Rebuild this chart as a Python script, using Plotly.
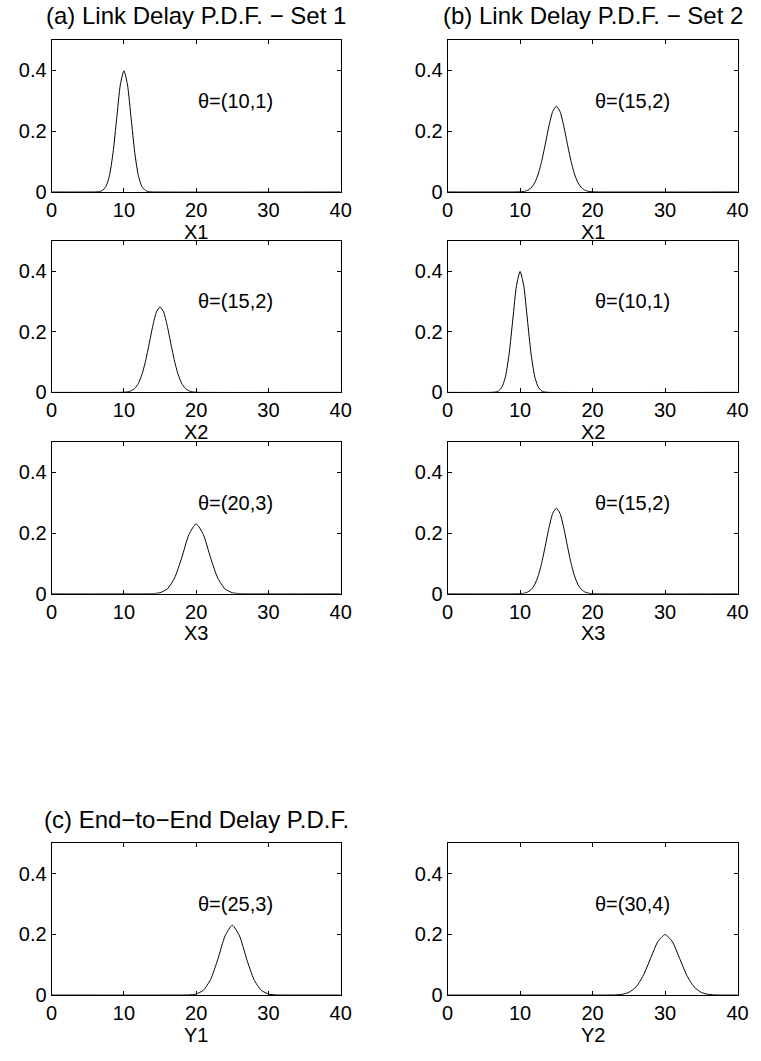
import plotly.graph_objects as go

# ---- data ----
# theta = (10,1)
x_10_1 = [0, 6, 6.5, 7, 7.5, 8, 8.5, 9, 9.5, 10, 10.5, 11, 11.5, 12, 12.5, 13, 13.5, 14, 40]
y_10_1 = [0, 0.0001, 0.0009, 0.0044, 0.0175, 0.054, 0.1295, 0.242, 0.3521, 0.3989, 0.3521, 0.242, 0.1295,
          0.054, 0.0175, 0.0044, 0.0009, 0.0001, 0]
# theta = (15,2)
x_15_2 = [0, 9, 10, 10.5, 11, 11.5, 12, 12.5, 13, 13.5, 14, 14.5, 15, 15.5, 16, 16.5, 17, 17.5, 18, 18.5,
          19, 19.5, 20, 21, 40]
y_15_2 = [0, 0.0, 0.0005, 0.0018, 0.0052, 0.0132, 0.0297, 0.0591, 0.1038, 0.1607, 0.2197, 0.2650, 0.2821,
          0.2650, 0.2197, 0.1607, 0.1038, 0.0591, 0.0297, 0.0132, 0.0052, 0.0018, 0.0005, 0.0, 0]
# theta = (20,3)
x_20_3 = [0, 13, 14, 15, 16, 17, 18, 19, 20, 21, 22, 23, 24, 25, 26, 27, 40]
y_20_3 = [0, 0.0001, 0.0006, 0.0036, 0.0160, 0.0514, 0.1182, 0.1950, 0.2303, 0.1950, 0.1182, 0.0514,
          0.0160, 0.0036, 0.0006, 0.0001, 0]
# theta = (25,3)
x_25_3 = [0, 18, 19, 20, 21, 22, 23, 24, 25, 26, 27, 28, 29, 30, 31, 32, 40]
y_25_3 = [0, 0.0001, 0.0006, 0.0036, 0.0160, 0.0514, 0.1182, 0.1950, 0.2303, 0.1950, 0.1182, 0.0514,
          0.0160, 0.0036, 0.0006, 0.0001, 0]
# theta = (30,4)
x_30_4 = [0, 22, 23, 24, 25, 26, 27, 28, 29, 30, 31, 32, 33, 34, 35, 36, 37, 38, 40]
y_30_4 = [0, 0.0001, 0.0004, 0.0022, 0.0088, 0.0270, 0.0648, 0.1210, 0.1760, 0.1995, 0.1760, 0.1210,
          0.0648, 0.0270, 0.0088, 0.0022, 0.0004, 0.0001, 0]

x_ticks = [0, 10, 20, 30, 40]
y_ticks = [0, 0.2, 0.4]
y_tick_text = ["0", "0.2", "0.4"]

titles = ["(a) Link Delay P.D.F. \u2212 Set 1", "(b) Link Delay P.D.F. \u2212 Set 2",
          "(c) End\u2212to\u2212End Delay P.D.F."]

# panel order: row-major, (curve, theta label, x label)
panels = [
    ((x_10_1, y_10_1), "\u03b8=(10,1)", "X1"), ((x_15_2, y_15_2), "\u03b8=(15,2)", "X1"),
    ((x_15_2, y_15_2), "\u03b8=(15,2)", "X2"), ((x_10_1, y_10_1), "\u03b8=(10,1)", "X2"),
    ((x_20_3, y_20_3), "\u03b8=(20,3)", "X3"), ((x_15_2, y_15_2), "\u03b8=(15,2)", "X3"),
    ((x_25_3, y_25_3), "\u03b8=(25,3)", "Y1"), ((x_30_4, y_30_4), "\u03b8=(30,4)", "Y2"),
]

# ---- layout geometry ----
W, H = 761, 1061
col_px = [(46.7, 342.3), (451.7, 748.3)]
row_px = [(40.5, 194.0), (243.3, 396.5), (446.7, 600.0), (852.3, 1005.5)]

FONT = "Liberation Sans, Arial, Helvetica, sans-serif"
TICK_SIZE = 20
TITLE_SIZE = 24

fig = go.Figure()
layout = dict(
    width=W, height=H, margin=dict(l=0, r=0, t=0, b=0),
    paper_bgcolor="white", plot_bgcolor="white", showlegend=False,
    font=dict(family=FONT, size=TICK_SIZE, color="black"),
)
annotations = []

for i, ((xs, ys), theta, xlab) in enumerate(panels):
    r, c = divmod(i, 2)
    n = i + 1
    xa = "x" if n == 1 else f"x{n}"
    ya = "y" if n == 1 else f"y{n}"
    x0, x1 = col_px[c]
    top, bot = row_px[r]
    dom_x = [x0 / W, x1 / W]
    dom_y = [1 - bot / H, 1 - top / H]
    fig.add_trace(go.Scatter(x=xs, y=ys, mode="lines", xaxis=xa, yaxis=ya,
                             line=dict(color="black", width=1, shape="spline", smoothing=0.6),
                             hoverinfo="skip"))
    axis_common = dict(showline=True, linecolor="black", linewidth=1, mirror="ticks",
                       ticks="inside", ticklen=4, tickcolor="black", tickwidth=1,
                       showgrid=False, zeroline=False,
                       tickfont=dict(family=FONT, size=TICK_SIZE, color="black"))
    layout["xaxis" if n == 1 else f"xaxis{n}"] = dict(
        domain=dom_x, range=[0, 40], tickvals=x_ticks, ticktext=[str(v) for v in x_ticks],
        anchor=ya, **axis_common)
    layout["yaxis" if n == 1 else f"yaxis{n}"] = dict(
        domain=dom_y, range=[0, 0.5], tickvals=y_ticks, ticktext=y_tick_text,
        anchor=xa, **axis_common)
    # theta label (data coordinates)
    annotations.append(dict(x=20, y=0.3, xref=xa, yref=ya, text=theta, showarrow=False,
                            xanchor="left", yanchor="middle",
                            font=dict(family=FONT, size=TICK_SIZE, color="black")))
    # x-axis label
    annotations.append(dict(x=(x0 + x1) / 2 / W, y=1 - (bot + 40) / H, xref="paper", yref="paper",
                            text=xlab, showarrow=False, xanchor="center", yanchor="middle",
                            font=dict(family=FONT, size=TICK_SIZE, color="black")))

# panel titles
title_pos = [((col_px[0][0] + col_px[0][1]) / 2, 16), ((col_px[1][0] + col_px[1][1]) / 2, 16),
             ((col_px[0][0] + col_px[0][1]) / 2, 828)]
for t, (px, py) in zip(titles, title_pos):
    annotations.append(dict(x=px / W, y=1 - py / H, xref="paper", yref="paper", text=t,
                            showarrow=False, xanchor="center", yanchor="middle",
                            font=dict(family=FONT, size=TITLE_SIZE, color="black")))

layout["annotations"] = annotations
fig.update_layout(**layout)
fig.write_html("out.html",
               post_script="document.body.style.margin='0';document.body.style.overflow='hidden';")
